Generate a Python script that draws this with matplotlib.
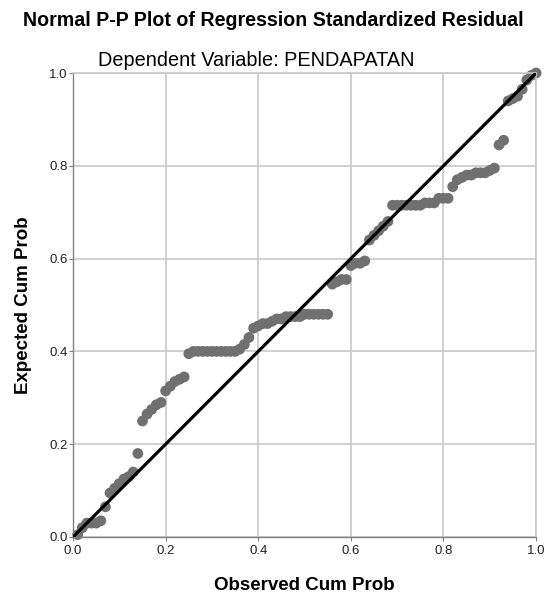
import matplotlib.pyplot as plt

# observed / expected cumulative probabilities
observed = [0.01, 0.02, 0.03, 0.04, 0.05, 0.06, 0.07, 0.08, 0.09, 0.10,
            0.11, 0.12, 0.13, 0.14, 0.15, 0.16, 0.17, 0.18, 0.19, 0.20,
            0.21, 0.22, 0.23, 0.24, 0.25, 0.26, 0.27, 0.28, 0.29, 0.30,
            0.31, 0.32, 0.33, 0.34, 0.35, 0.36, 0.37, 0.38, 0.39, 0.40,
            0.41, 0.42, 0.43, 0.44, 0.45, 0.46, 0.47, 0.48, 0.49, 0.50,
            0.51, 0.52, 0.53, 0.54, 0.55, 0.56, 0.57, 0.58, 0.59, 0.60,
            0.61, 0.62, 0.63, 0.64, 0.65, 0.66, 0.67, 0.68, 0.69, 0.70,
            0.71, 0.72, 0.73, 0.74, 0.75, 0.76, 0.77, 0.78, 0.79, 0.80,
            0.81, 0.82, 0.83, 0.84, 0.85, 0.86, 0.87, 0.88, 0.89, 0.90,
            0.91, 0.92, 0.93, 0.94, 0.95, 0.96, 0.97, 0.98, 0.99, 1.00]
expected = [0.005, 0.02, 0.03, 0.03, 0.03, 0.035, 0.065, 0.095, 0.105, 0.115,
            0.125, 0.13, 0.14, 0.18, 0.25, 0.265, 0.275, 0.285, 0.29, 0.315,
            0.325, 0.335, 0.34, 0.345, 0.395, 0.40, 0.40, 0.40, 0.40, 0.40,
            0.40, 0.40, 0.40, 0.40, 0.40, 0.405, 0.415, 0.43, 0.45, 0.455,
            0.46, 0.46, 0.465, 0.47, 0.47, 0.475, 0.475, 0.475, 0.475, 0.48,
            0.48, 0.48, 0.48, 0.48, 0.48, 0.545, 0.55, 0.555, 0.555, 0.585,
            0.59, 0.59, 0.595, 0.64, 0.65, 0.66, 0.67, 0.68, 0.715, 0.715,
            0.715, 0.715, 0.715, 0.715, 0.715, 0.72, 0.72, 0.72, 0.73, 0.73,
            0.73, 0.755, 0.77, 0.775, 0.78, 0.78, 0.785, 0.785, 0.785, 0.79,
            0.795, 0.845, 0.855, 0.94, 0.945, 0.95, 0.965, 0.985, 0.995, 1.0]
ticks = [0.0, 0.2, 0.4, 0.6, 0.8, 1.0]
tick_labels = ["0.0", "0.2", "0.4", "0.6", "0.8", "1.0"]

plt.rcParams['font.family'] = ['Liberation Sans', 'DejaVu Sans']

fig = plt.figure(figsize=(5.47, 5.96), dpi=100)
ax = fig.add_axes([0.1335, 0.099, 0.8465, 0.7785])

ax.scatter(observed, expected, s=60, color="#707070", edgecolors="none", zorder=2, clip_on=False)
ax.plot([0, 1], [0, 1], color="black", linewidth=2.3, zorder=3, solid_capstyle="round")

ax.set_xlim(0, 1)
ax.set_ylim(0, 1)
ax.set_xticks(ticks)
ax.set_xticklabels(tick_labels)
ax.set_yticks(ticks)
ax.set_yticklabels(tick_labels)
ax.grid(True, color="#c8c8c8", linewidth=1.2, zorder=0)
ax.set_axisbelow(True)
ax.tick_params(labelsize=9.5, length=3, color="#808080", labelcolor="#222222", pad=1)
ax.tick_params(axis="x", pad=3)
for side in ["top", "right"]:
    ax.spines[side].set_color("#c8c8c8")
    ax.spines[side].set_linewidth(1.2)
for side in ["left", "bottom"]:
    ax.spines[side].set_color("#808080")
    ax.spines[side].set_linewidth(1.0)

ax.set_xlabel("Observed Cum Prob", fontsize=13.5, fontweight="bold", labelpad=14)
ax.set_ylabel("Expected Cum Prob", fontsize=13.5, fontweight="bold", labelpad=12)

fig.text(0.5, 0.966, "Normal P-P Plot of Regression Standardized Residual",
         ha="center", va="center", fontsize=14.1, fontweight="bold")
fig.text(0.468, 0.899, "Dependent Variable: PENDAPATAN",
         ha="center", va="center", fontsize=14.3)

fig.savefig("out.png", dpi=100)
